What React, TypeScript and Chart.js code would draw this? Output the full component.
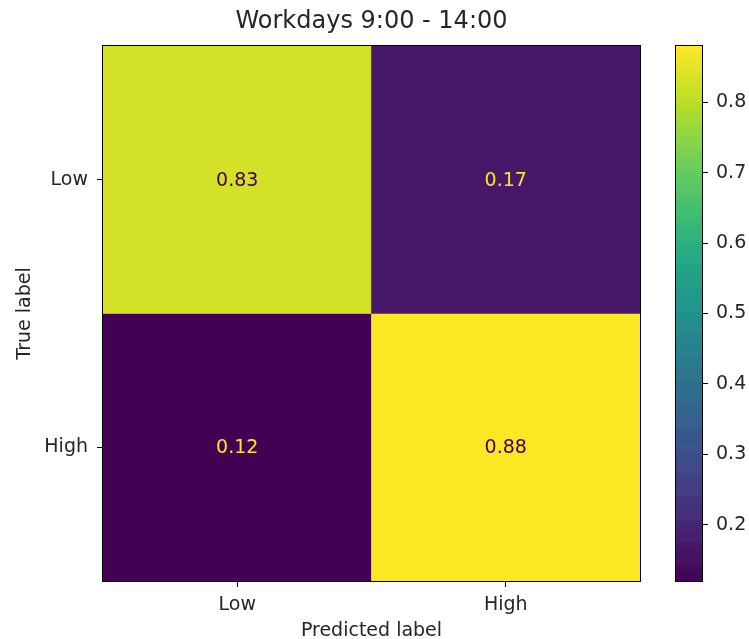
import React, { useEffect, useRef } from "react";
import { Chart, registerables } from "chart.js";

Chart.register(...registerables);

const TITLE = "Workdays 9:00 - 14:00";
const ROW_LABELS = ["Low", "High"];
const COL_LABELS = ["Low", "High"];
const ROW_LOW = [0.83, 0.17];
const ROW_HIGH = [0.12, 0.88];
const MATRIX = [ROW_LOW, ROW_HIGH];
const CB_TICKS = [0.2, 0.3, 0.4, 0.5, 0.6, 0.7, 0.8];
const X_TITLE = "Predicted label";
const Y_TITLE = "True label";

const VMIN = Math.min(...MATRIX.flat());
const VMAX = Math.max(...MATRIX.flat());

const FONT = "'DejaVu Sans', sans-serif";
const TEXT = "#262626";
const FS = 19;

const VIRIDIS = [
  [68, 1, 84], [72, 36, 117], [65, 68, 135], [53, 95, 141], [42, 120, 142],
  [33, 145, 140], [34, 168, 132], [68, 191, 112], [122, 209, 81], [189, 223, 38], [253, 231, 37],
];
function viridis(t: number): string {
  const c = Math.max(0, Math.min(1, t)) * (VIRIDIS.length - 1);
  const i = Math.min(VIRIDIS.length - 2, Math.floor(c));
  const f = c - i;
  const a = VIRIDIS[i], b = VIRIDIS[i + 1];
  const m = (k: number) => Math.round(a[k] + (b[k] - a[k]) * f);
  return `rgb(${m(0)},${m(1)},${m(2)})`;
}
const norm = (v: number) => (v - VMIN) / (VMAX - VMIN);

const W = 749, H = 639;
const PLOT = { left: 103, top: 46, right: 640, bottom: 581 };
const CB = { left: 676, right: 702 };

export default function App() {
  const mainRef = useRef<HTMLCanvasElement>(null);
  const cbRef = useRef<HTMLCanvasElement>(null);

  useEffect(() => {
    const overlay = {
      id: "overlay",
      afterDatasetsDraw(chart: any) {
        const ctx = chart.ctx;
        const xs = chart.scales.x, ys = chart.scales.y;
        ctx.save();
        ctx.font = `${FS}px ${FONT}`;
        ctx.textAlign = "center";
        ctx.textBaseline = "middle";
        MATRIX.forEach((row, i) => {
          row.forEach((v, j) => {
            ctx.fillStyle = v < (VMIN + VMAX) / 2 ? viridis(1) : viridis(0);
            ctx.fillText(v.toFixed(2), xs.getPixelForValue(j), ys.getPixelForValue(i) + 1);
          });
        });
        const a = chart.chartArea;
        ctx.strokeStyle = "#000";
        ctx.lineWidth = 1;
        ctx.strokeRect(a.left - 0.5, a.top - 0.5, a.right - a.left + 1, a.bottom - a.top + 1);
        ctx.fillStyle = TEXT;
        ctx.font = `24px ${FONT}`;
        ctx.fillText(TITLE, (a.left + a.right) / 2, 22);
        ctx.restore();
      },
    };

    const main = new Chart(mainRef.current!, {
      type: "bar",
      data: {
        labels: COL_LABELS,
        datasets: MATRIX.map((row, i) => ({
          data: row.map(() => [i - 0.5, i + 0.5]),
          backgroundColor: row.map((v) => viridis(norm(v))),
          borderWidth: 0,
          barPercentage: 1,
          categoryPercentage: 1,
          grouped: false,
        })) as any,
      },
      options: {
        animation: false,
        responsive: false,
        layout: { padding: { top: PLOT.top, right: W - PLOT.right, bottom: 0, left: 0 } },
        plugins: { legend: { display: false }, tooltip: { enabled: false } },
        scales: {
          x: {
            type: "category",
            offset: true,
            grid: { offset: false, drawOnChartArea: false, tickLength: 6, color: "#000" },
            border: { display: false },
            ticks: { font: { size: FS, family: FONT }, color: TEXT, padding: 7 },
            title: {
              display: true, text: X_TITLE, font: { size: FS, family: FONT, lineHeight: 0.8 },
              color: TEXT, padding: { top: 0, bottom: 0 },
            },
            afterFit: (s: any) => { s.height = H - PLOT.bottom; },
          },
          y: {
            type: "linear",
            min: -0.5,
            max: 1.5,
            reverse: true,
            grid: { drawOnChartArea: false, tickLength: 6, color: "#000" },
            border: { display: false },
            afterBuildTicks: (s: any) => { s.ticks = ROW_LABELS.map((_, i) => ({ value: i })); },
            ticks: {
              font: { size: FS, family: FONT }, color: TEXT, padding: 9,
              callback: (v: any) => ROW_LABELS[v] ?? "",
            },
            title: { display: true, text: Y_TITLE, font: { size: FS, family: FONT }, color: TEXT, padding: { top: 14, bottom: 0 } },
            afterFit: (s: any) => { s.width = PLOT.left; },
          },
        },
      } as any,
      plugins: [overlay],
    });

    const gradient = {
      id: "gradient",
      beforeDatasetsDraw(chart: any) {
        const ctx = chart.ctx;
        const a = chart.chartArea;
        const ys = chart.scales.y;
        const N = 256;
        ctx.save();
        for (let k = 0; k < N; k++) {
          const v0 = VMIN + ((VMAX - VMIN) * k) / N;
          const v1 = VMIN + ((VMAX - VMIN) * (k + 1)) / N;
          const y0 = ys.getPixelForValue(v0), y1 = ys.getPixelForValue(v1);
          ctx.fillStyle = viridis((k + 0.5) / N);
          ctx.fillRect(a.left, y1, a.right - a.left, y0 - y1 + 0.6);
        }
        ctx.strokeStyle = "#000";
        ctx.lineWidth = 1;
        ctx.strokeRect(a.left - 0.5, a.top - 0.5, a.right - a.left + 1, a.bottom - a.top + 1);
        ctx.restore();
      },
    };

    const cb = new Chart(cbRef.current!, {
      type: "scatter",
      data: { datasets: [] },
      options: {
        animation: false,
        responsive: false,
        layout: { padding: { top: PLOT.top, bottom: H - PLOT.bottom, left: CB.left, right: 0 } },
        plugins: { legend: { display: false }, tooltip: { enabled: false } },
        scales: {
          x: { type: "linear", display: false, min: 0, max: 1 },
          y: {
            type: "linear",
            position: "right",
            min: VMIN,
            max: VMAX,
            grid: { drawOnChartArea: false, tickLength: 6, color: "#000" },
            border: { display: false },
            afterBuildTicks: (s: any) => { s.ticks = CB_TICKS.map((v) => ({ value: v })); },
            ticks: {
              font: { size: FS, family: FONT }, color: TEXT, padding: 8,
              callback: (v: any) => Number(v).toFixed(1),
            },
            afterFit: (s: any) => { s.width = W - CB.right; },
          },
        },
      } as any,
      plugins: [gradient],
    });

    return () => { main.destroy(); cb.destroy(); };
  }, []);

  return (
    <div style={{ position: "fixed", left: 0, top: 0, width: W, height: H, background: "#fff" }}>
      <canvas ref={mainRef} width={W} height={H} style={{ position: "absolute", left: 0, top: 0 }} />
      <canvas ref={cbRef} width={W} height={H} style={{ position: "absolute", left: 0, top: 0 }} />
    </div>
  );
}
